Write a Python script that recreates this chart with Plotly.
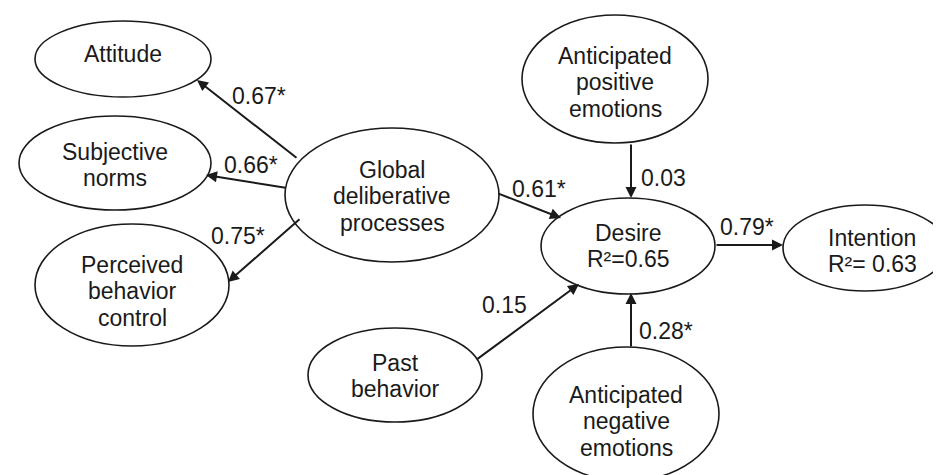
import plotly.graph_objects as go

# ---- data ----
node_ids = ["att", "sn", "pbc", "gdp", "des", "int", "ape", "pb", "ane"]
node_labels = [
    ["Attitude"],
    ["Subjective", "norms"],
    ["Perceived", "behavior", "control"],
    ["Global", "deliberative", "processes"],
    ["Desire"],
    ["Intention"],
    ["Anticipated", "positive", "emotions"],
    ["Past", "behavior"],
    ["Anticipated", "negative", "emotions"],
]
r_squared = {"des": "R²=0.65", "int": "R²= 0.63"}

edge_from = ["gdp", "gdp", "gdp", "gdp", "ape", "des", "pb", "ane"]
edge_to = ["att", "sn", "pbc", "des", "des", "int", "des", "des"]
edge_coef = ["0.67*", "0.66*", "0.75*", "0.61*", "0.03", "0.79*", "0.15", "0.28*"]

# ---- layout (pixel positions, y downward) ----
node_geom = {  # cx, cy, rx, ry, text centre x, text centre y
    "att": (115, 51, 88, 38, 115, 46),
    "sn": (107, 155, 96, 47, 107, 157),
    "pbc": (124, 277, 97, 61, 124, 283),
    "gdp": (384, 187, 107, 67, 384, 188),
    "des": (620, 238, 87, 48, 620, 238),
    "int": (857, 240, 82, 43, 864, 243),
    "ape": (607, 71, 93, 64, 607, 74),
    "pb": (387, 367, 87, 47, 387, 368),
    "ane": (618, 406, 93, 67, 618, 413),
}
edge_geom = [  # x_start, y_start, x_end, y_end, label_x, label_y
    (290, 151, 189, 72, 251, 88),
    (279, 180, 198, 167, 243, 157),
    (293, 210, 220, 274, 230, 228),
    (489, 185, 553, 210, 531, 181),
    (623, 135, 623, 190, 655, 170),
    (707, 237, 775, 237, 739, 219),
    (468, 352, 571, 276, 496, 297),
    (623, 340, 623, 285, 658, 323),
]
LINE_GAP = 26.5
FONT = "Liberation Sans, Arial, sans-serif"
FSIZE = 23
INK = "#1a1a1a"

fig = go.Figure()
fig.add_trace(go.Scatter(x=[0, 941], y=[0, 475], mode="markers",
                         marker=dict(opacity=0), hoverinfo="skip", showlegend=False))

shapes = []
annotations = []
for nid, lines in zip(node_ids, node_labels):
    cx, cy, rx, ry, tx, ty = node_geom[nid]
    shapes.append(dict(type="circle", xref="x", yref="y",
                       x0=cx - rx, x1=cx + rx, y0=cy - ry, y1=cy + ry,
                       line=dict(color=INK, width=1.6), fillcolor="white", layer="below"))
    all_lines = list(lines) + ([r_squared[nid]] if nid in r_squared else [])
    n = len(all_lines)
    for i, ln in enumerate(all_lines):
        annotations.append(dict(x=tx, y=ty + (i - (n - 1) / 2) * LINE_GAP, xref="x", yref="y",
                                text=ln, showarrow=False, yanchor="middle",
                                font=dict(family=FONT, size=FSIZE, color=INK)))

for c, (xs, ys, xe, ye, lx, ly) in zip(edge_coef, edge_geom):
    annotations.append(dict(x=xe, y=ye, ax=xs, ay=ys, xref="x", yref="y", axref="x", ayref="y",
                            text="", showarrow=True, arrowhead=2, arrowsize=1.1,
                            arrowwidth=2, arrowcolor=INK, standoff=0, startstandoff=0))
    annotations.append(dict(x=lx, y=ly, xref="x", yref="y", text=c, showarrow=False,
                            font=dict(family=FONT, size=FSIZE, color=INK)))

fig.update_layout(
    width=941, height=475,
    margin=dict(l=0, r=0, t=0, b=0),
    paper_bgcolor="white", plot_bgcolor="white",
    xaxis=dict(range=[0, 941], visible=False, fixedrange=True),
    yaxis=dict(range=[475, 0], visible=False, fixedrange=True),
    shapes=shapes, annotations=annotations, showlegend=False,
)
fig.write_html("out.html")
